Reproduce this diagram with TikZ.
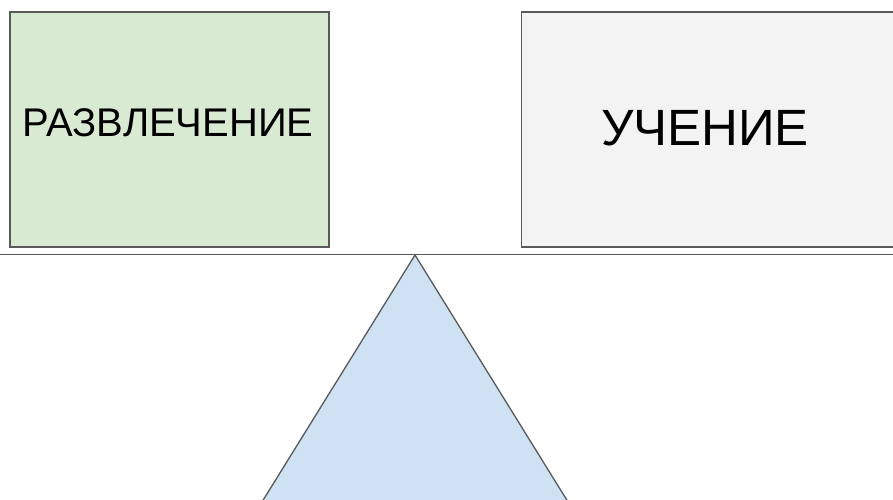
\documentclass[tikz,border=0pt]{standalone}
\usepackage{fontspec}
\setmainfont{Liberation Sans}
\definecolor{boxline}{HTML}{595959}
\definecolor{funfill}{HTML}{D9EAD3}
\definecolor{studyfill}{HTML}{F3F3F3}
\definecolor{basefill}{HTML}{CFE2F3}
\tikzset{
  scalebox/.style={draw=boxline, line width=1.3pt, inner sep=0pt},
  scaletext/.style={inner sep=0pt, text=black}
}
\begin{document}
\begin{tikzpicture}[x=1pt, y=-1pt]
    \useasboundingbox (0,0) rectangle (893,499);
    \clip (0,0) rectangle (893,499);

    % boxes on the beam
    \node[scalebox, fill=funfill, minimum width=319pt, minimum height=235pt] (fun) at (169.5,129.5) {};
    \node[scalebox, fill=studyfill, minimum width=390pt, minimum height=235pt, anchor=west] (study) at (521,129.5) {};
    \node[scaletext, font=\fontsize{40}{48}\selectfont] (funtext) at (168,122.5) {РАЗВЛЕЧЕНИЕ};
    \node[scaletext, font=\fontsize{51}{60}\selectfont] (studytext) at (705,128.5) {УЧЕНИЕ};

    % pivot
    \draw[boxline, line width=1.3pt, fill=basefill] (415,255) -- (226,560) -- (604,560) -- cycle;
    % beam
    \draw[boxline, line width=1.5pt] (-5,254.5) -- (900,254.5);

\end{tikzpicture}
\end{document}
